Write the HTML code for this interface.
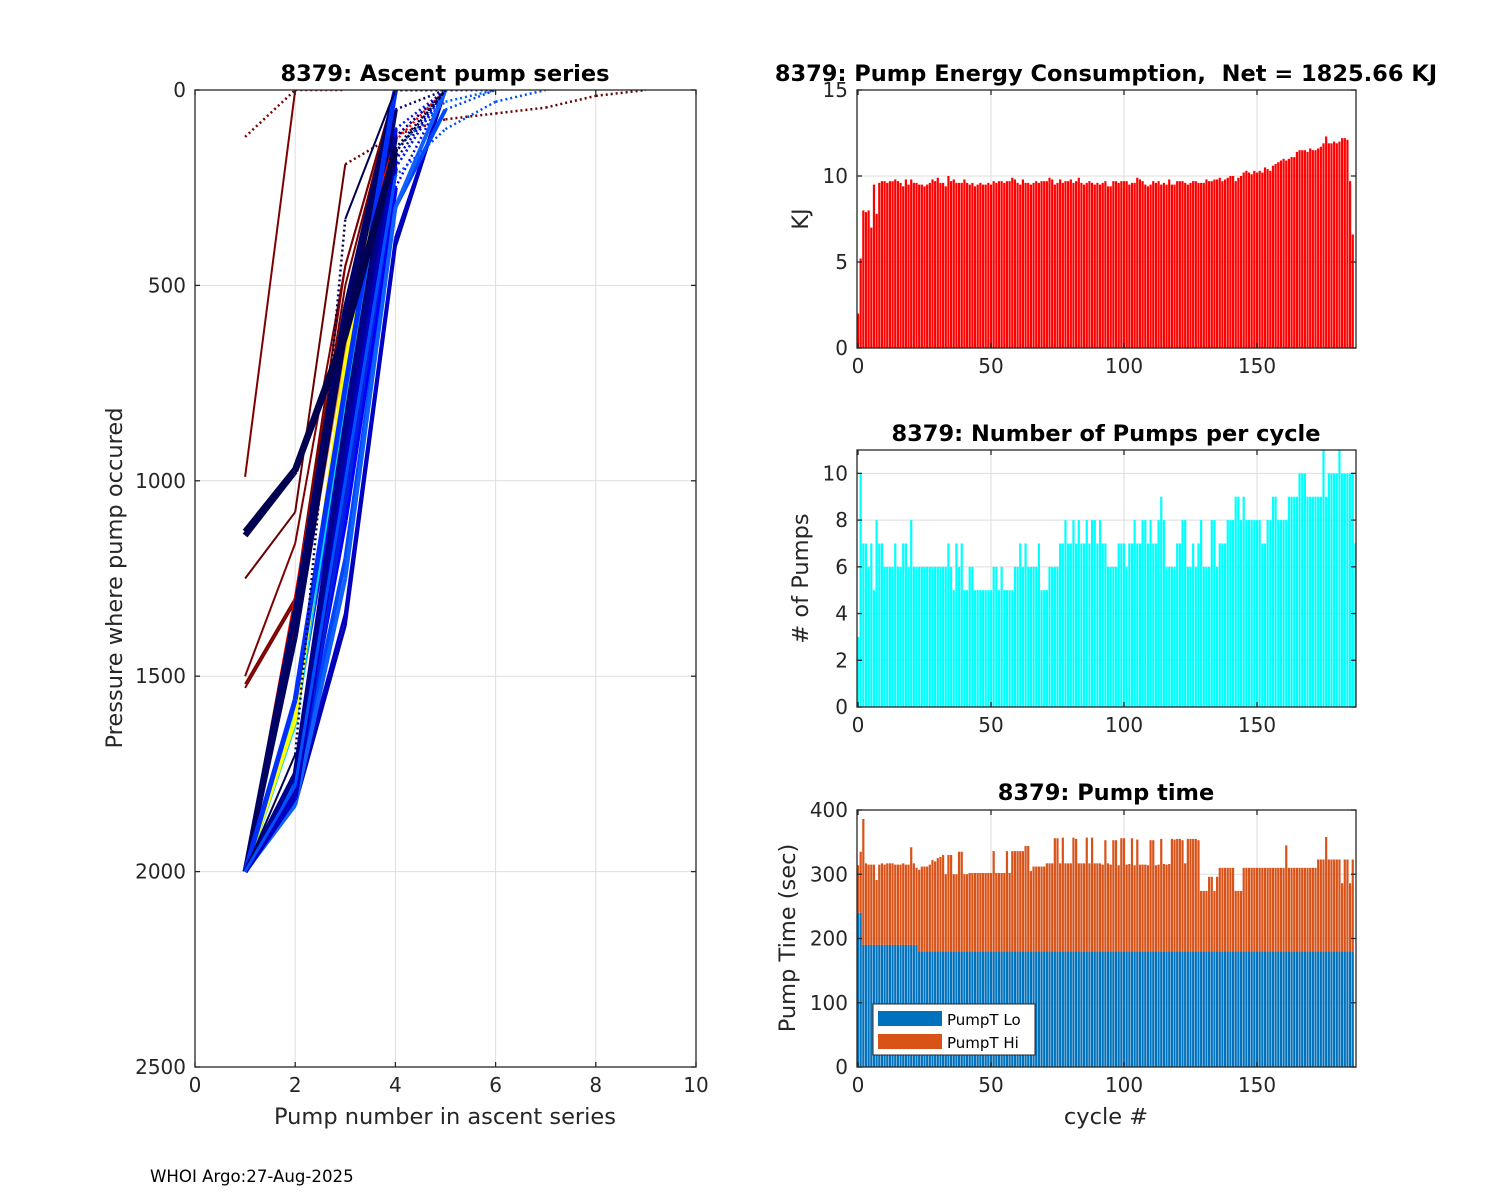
<!DOCTYPE html>
<html><head><meta charset="utf-8"><style>
body{margin:0;background:#fff;}
svg{display:block;font-family:"DejaVu Sans","Liberation Sans",sans-serif;}
text{white-space:pre;}
</style></head><body>
<svg id="fig" width="1500" height="1200" viewBox="0 0 1500 1200" xmlns="http://www.w3.org/2000/svg">
<rect width="1500" height="1200" fill="#fff"/>
<g id="left"></g>
<g id="energy"></g>
<g id="pumps"></g>
<g id="ptime"></g>
<text x="150" y="1182" font-size="16.6" fill="#000">WHOI Argo:27-Aug-2025</text>
</svg>
<script>
const energy=[2.0,5.2,8.0,7.9,8.0,7.0,9.5,7.8,9.6,9.7,
9.7,9.6,9.7,9.7,9.8,9.7,9.6,9.4,9.8,9.5,
9.8,9.6,9.6,9.5,9.5,9.4,9.5,9.6,9.8,9.7,
9.9,9.6,9.6,9.4,10.0,9.7,9.8,9.6,9.6,9.6,
9.8,9.6,9.5,9.6,9.4,9.5,9.6,9.5,9.5,9.6,
9.5,9.7,9.6,9.7,9.7,9.6,9.7,9.7,9.9,9.8,
9.6,9.5,9.8,9.6,9.6,9.5,9.6,9.7,9.6,9.7,
9.7,9.7,9.9,9.8,9.5,9.6,9.8,9.6,9.7,9.7,
9.8,9.6,9.7,9.9,9.6,9.5,9.6,9.7,9.6,9.5,
9.6,9.5,9.6,9.7,9.4,9.4,9.7,9.7,9.6,9.7,
9.7,9.7,9.5,9.6,9.6,9.9,9.8,9.7,9.5,9.4,
9.5,9.7,9.6,9.7,9.5,9.6,9.5,9.8,9.5,9.5,
9.7,9.7,9.7,9.6,9.5,9.6,9.7,9.7,9.6,9.6,
9.6,9.8,9.7,9.7,9.8,9.8,9.9,9.7,9.8,9.9,
10.0,10.0,9.7,9.9,10.0,10.2,10.3,10.2,10.1,10.3,
10.2,10.3,10.2,10.5,10.4,10.3,10.6,10.7,10.8,10.9,
11.0,10.9,11.0,11.1,11.1,11.4,11.5,11.5,11.5,11.4,
11.6,11.5,11.5,11.6,11.7,11.9,12.3,11.9,11.9,12.0,
11.9,12.0,12.2,12.2,12.1,9.7,6.6];
const pumps=[3,10,7,7,6,7,5,8,7,7,
6,6,6,6,7,6,6,7,7,6,
8,6,6,6,6,6,6,6,6,6,
6,6,6,6,7,6,5,7,6,7,
5,5,6,6,5,5,5,5,5,5,
5,6,6,5,6,5,5,5,5,6,
6,7,6,7,6,6,6,6,7,5,
5,5,6,6,6,6,7,7,8,7,
7,8,7,8,7,7,8,7,8,8,
7,8,7,7,6,6,6,6,7,7,
7,6,7,7,8,7,7,8,8,7,
8,7,7,8,9,8,6,6,6,6,
7,7,8,8,6,6,7,6,7,8,
6,6,6,8,8,6,7,7,7,8,
8,8,9,9,8,9,8,8,8,8,
8,8,7,7,8,8,9,9,8,8,
8,8,9,9,9,9,10,10,10,9,
9,9,9,9,9,11,9,10,10,10,
10,11,10,10,10,10,10,7];
const timeLo=[240,240,190,190,190,190,190,190,190,190,190,190,190,190,190,190,190,190,190,190,190,190,190];
const timeLoRest=180;
const timeTotal=[314,335,386,317,315,315,315,291,315,317,
315,317,317,317,315,315,315,317,315,315,
342,317,310,307,312,312,312,315,322,320,
325,327,330,300,330,330,300,300,335,335,
300,300,302,302,302,302,302,302,302,302,
302,336,302,302,302,302,336,302,336,336,
336,336,336,344,344,305,312,312,312,312,
312,317,317,317,356,356,317,357,317,317,
317,357,355,317,317,317,357,317,357,317,
317,317,315,353,317,315,353,353,314,356,
356,315,316,356,314,354,315,315,315,314,
353,353,314,315,355,316,315,316,355,354,
355,355,353,317,355,355,355,355,353,274,
274,274,296,296,274,296,310,310,310,310,
310,310,274,274,274,310,310,310,310,310,
310,310,310,310,310,310,310,310,310,310,
310,345,310,310,310,310,310,310,310,310,
310,310,310,323,323,323,358,323,323,323,
323,323,286,323,323,286,323];
const xTicksL=[0,2,4,6,8,10], yTicksL=[0,500,1000,1500,2000,2500];
const cycTicks=[0,50,100,150];
const eTicks=[0,5,10,15], pTicks=[0,2,4,6,8,10], tTicks=[0,100,200,300,400];
const profiles=[
[990,0],
[120,0,0],
[1500,1160,450,0],
[1520,1300,450,0],
[1530,1310,500,0],
[1250,1080,190,115,75,60,45,15,0],
[2000,1830,1370,400,0],
[2000,1815,1340,380,0],
[2000,1800,1200,300,50,0],
[2000,1790,1100,250,0],
[2000,1780,1000,200,0,0],
[2000,1760,950,150,30,0],
[2000,1800,900,120,0],
[2000,1600,850,100,0],
[2000,1580,800,50,0],
[2000,1400,650,0,0],
[2000,1350,600,0,0],
[2000,1300,560,130,0],
[2000,1620,780,0,0],
[2000,1600,720,0,0],
[2000,1610,700,0,0],
[2000,1330,560,0,0],
[2000,1400,620,0],
[2000,1560,760,0,0],
[2000,1820,1050,200,0],
[2000,1790,900,160,0],
[2000,1750,870,120,0,0],
[2000,1830,1250,300,0],
[2000,1810,980,180,0],
[2000,1700,330,0,0],
[2000,1780,1000,220,100,30,0],
[1130,970,620,150,0],
[1140,975,630,160,0]];
const profileColor=["#800000","#800000","#800000","#800000","#7a0000","#6a0000",
"#0000a8","#0000c8","#0048ff","#0000ff","#0000d8","#0060ff","#000080","#0010ff","#000070",
"#ff9000","#ff5000","#ff0000","#00d0ff","#40ff90","#ffff00","#00006a","#000060","#0030ff",
"#0020e0","#0000b0","#000090","#1060ff","#0000c0","#000050","#0050ff","#000050","#000050"];
const profileWidth=[2,2,2,2,2,2,3,3,4,5,5,4,5,5,5,4,4,3,4,4,4,5,5,5,5,5,5,4,5,2,3,6,6];

const NS="http://www.w3.org/2000/svg";
function mk(parent,tag,attrs){const e=document.createElementNS(NS,tag);for(const k in attrs)e.setAttribute(k,attrs[k]);parent.appendChild(e);return e;}
const TXT="#262626";

function axesFrame(g,x0,x1,y0,y1,xt,xs,yt,ys){
  xt.forEach(v=>{const X=xs(v);if(X>x0+1&&X<x1-1){const l=mk(g,'line',{x1:X,x2:X,y1:y0,y2:y1,stroke:'#dedede','stroke-width':1});}});
  yt.forEach(v=>{const Y=ys(v);if(Y>y0+1&&Y<y1-1){const l=mk(g,'line',{x1:x0,x2:x1,y1:Y,y2:Y,stroke:'#dedede','stroke-width':1});}});
}
function axesBox(g,x0,x1,y0,y1,xt,xs,yt,ys,xfmt,yfmt){
  const b=mk(g,'rect',{x:x0,y:y0,width:x1-x0,height:y1-y0,fill:'none',stroke:TXT,'stroke-width':1.3});
  
  xt.forEach(v=>{const X=xs(v);
    mk(g,'line',{x1:X,x2:X,y1:y1,y2:y1-5,stroke:TXT,'stroke-width':1.3});
    mk(g,'line',{x1:X,x2:X,y1:y0,y2:y0+5,stroke:TXT,'stroke-width':1.3});
    const t=mk(g,'text',{x:X,y:y1+25,'font-size':20,'text-anchor':'middle',fill:TXT});t.textContent=xfmt(v);
    });
  yt.forEach(v=>{const Y=ys(v);
    mk(g,'line',{x1:x0,x2:x0+5,y1:Y,y2:Y,stroke:TXT,'stroke-width':1.3});
    mk(g,'line',{x1:x1,x2:x1-5,y1:Y,y2:Y,stroke:TXT,'stroke-width':1.3});
    const t=mk(g,'text',{x:x0-9,y:Y+7,'font-size':20,'text-anchor':'end',fill:TXT});t.textContent=yfmt(v);
    });
}
function label(g,txt,x,y,rot,name,bold){
  const t=mk(g,'text',{x:x,y:y,'font-size':bold?22.5:22.5,'text-anchor':'middle',fill:bold?'#000':TXT,'font-weight':bold?'bold':'normal'});
  if(rot)t.setAttribute('transform','rotate(-90 '+x+' '+y+')');
  t.textContent=txt;
}

(function(){
  const g=document.getElementById('left');
  const x0=195,x1=696,y0=90,y1=1067;
  const xs=v=>x0+(v-0)/10*(x1-x0), ys=v=>y0+v/2500*(y1-y0);
  axesFrame(g,x0,x1,y0,y1,xTicksL,xs,yTicksL,ys);
  const clip=mk(g,'clipPath',{id:'clipL'});mk(clip,'rect',{x:x0,y:y0,width:x1-x0,height:y1-y0});
  const lg=mk(g,'g',{'clip-path':'url(#clipL)'});
  profiles.forEach((p,i)=>{
    for(let k=0;k<p.length-1;k++){
      const dotted=(p[k]<260&&p[k+1]<260)||(i===1)||(i===5&&k>=6)||(i===29&&k===1);
      const l=mk(lg,'line',{x1:xs(k+1),y1:ys(p[k]),x2:xs(k+2),y2:ys(p[k+1]),stroke:profileColor[i],'stroke-width':dotted?2.5:profileWidth[i],'stroke-dasharray':dotted?'2 3':'none','stroke-linecap':'butt'});
      
      
    }
  });
  axesBox(g,x0,x1,y0,y1,xTicksL,xs,yTicksL,ys,v=>String(v),v=>String(v));
  label(g,'8379: Ascent pump series',445,81,false,'left-title',true);
  label(g,'Pressure where pump occured',122,578,true,'left-y-axis-title');
  label(g,'Pump number in ascent series',445,1124,false,'left-x-axis-title');
})();

function barChart(id,vals,ymax,y0,y1,yt,color,title,ylab,ylabx){
  const g=document.getElementById(id);
  const x0=857,x1=1356;
  const xs=v=>858+v*2.66, ys=v=>y1-v/ymax*(y1-y0);
  axesFrame(g,x0,x1,y0,y1,cycTicks,xs,yt,ys);
  const clip=mk(g,'clipPath',{id:'clip'+id});mk(clip,'rect',{x:x0,y:y0,width:x1-x0,height:y1-y0});
  const bg=mk(g,'g',{'clip-path':'url(#clip'+id+')'});
  vals.forEach((v,i)=>{const r=mk(bg,'rect',{x:xs(i)-1.1,y:ys(v),width:2.2,height:y1-ys(v),fill:color});
    });
  axesBox(g,x0,x1,y0,y1,cycTicks,xs,yt,ys,v=>String(v),v=>String(v));
  label(g,title,1106,81+(y0-90),false,id+'-title',true);
  label(g,ylab,ylabx,(y0+y1)/2,true,id+'-y-axis-title');
}
barChart('energy',energy,15,90,348,eTicks,'#ff0000','8379: Pump Energy Consumption,  Net = 1825.66 KJ','KJ',808);
barChart('pumps',pumps,11,450,707,pTicks,'#00ffff','8379: Number of Pumps per cycle','# of Pumps',808);
(function(){
  const g=document.getElementById('ptime');
  const x0=857,x1=1356,y0=810,y1=1067;
  const xs=v=>858+v*2.66, ys=v=>y1-v/400*(y1-y0);
  axesFrame(g,x0,x1,y0,y1,cycTicks,xs,tTicks,ys);
  const clip=mk(g,'clipPath',{id:'clipT'});mk(clip,'rect',{x:x0,y:y0,width:x1-x0,height:y1-y0});
  const bg=mk(g,'g',{'clip-path':'url(#clipT)'});
  timeTotal.forEach((v,i)=>{
    const lo=i<timeLo.length?timeLo[i]:timeLoRest;
    const r=mk(bg,'rect',{x:xs(i)-1.1,y:ys(v),width:2.2,height:ys(lo)-ys(v),fill:'#d95319'});
    
    const r2=mk(bg,'rect',{x:xs(i)-1.1,y:ys(lo),width:2.2,height:y1-ys(lo),fill:'#0072bd'});
    
  });
  axesBox(g,x0,x1,y0,y1,cycTicks,xs,tTicks,ys,v=>String(v),v=>String(v));
  label(g,'8379: Pump time',1106,800,false,'ptime-title',true);
  label(g,'Pump Time (sec)',795,938,true,'ptime-y-axis-title');
  label(g,'cycle #',1106,1124,false,'ptime-x-axis-title');
  const lgd=mk(g,'g',{});
  mk(lgd,'rect',{x:873,y:1004,width:162,height:51,fill:'#fff',stroke:TXT,'stroke-width':1});
  mk(lgd,'rect',{x:878,y:1011,width:64,height:15,fill:'#0072bd'});
  mk(lgd,'rect',{x:878,y:1034,width:64,height:15,fill:'#d95319'});
  const a=mk(lgd,'text',{x:947,y:1025,'font-size':15,fill:'#000'});a.textContent='PumpT Lo';
  
  const b=mk(lgd,'text',{x:947,y:1048,'font-size':15,fill:'#000'});b.textContent='PumpT Hi';
  
})();
</script>
</body></html>
